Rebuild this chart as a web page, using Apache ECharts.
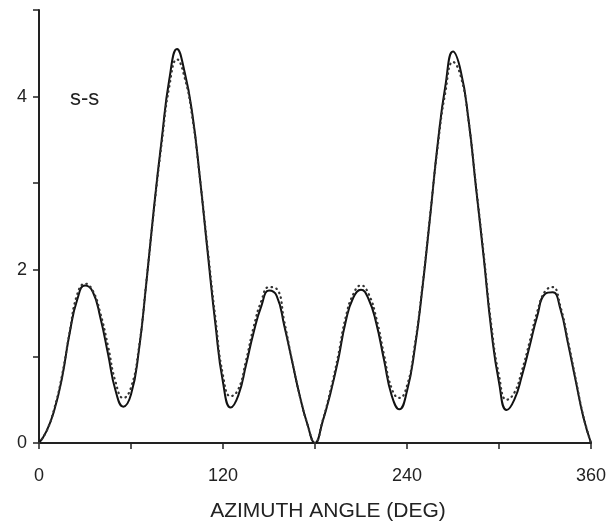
<!DOCTYPE html>
<html>
<head>
<meta charset="utf-8">
<script src="https://cdn.jsdelivr.net/npm/echarts@6/dist/echarts.min.js"></script>
<style>
html,body{margin:0;padding:0;background:#fff;}
#c{width:614px;height:529px;}
</style>
</head>
<body>
<div id="c"></div>
<script>
// Azimuth angles (deg)
var angles = [0,5,10,15,20,25,30,35,40,45,50,55,60,65,70,75,80,85,90,95,100,105,110,115,120,125,130,135,140,145,150,155,160,165,170,175,180,
  185,190,195,200,205,210,215,220,225,230,235,240,245,250,255,260,265,270,275,280,285,290,295,300,305,310,315,320,325,330,335,340,345,350,355,360];
// Solid curve (calculated)
var solidValues = [0,0.14,0.38,0.75,1.27,1.66,1.82,1.75,1.45,1.03,0.60,0.42,0.56,1.05,1.85,2.72,3.50,4.20,4.55,4.28,3.80,3.05,2.20,1.38,0.70,0.41,0.55,0.90,1.28,1.58,1.76,1.70,1.35,0.95,0.55,0.22,0,
  0.25,0.57,0.95,1.40,1.68,1.77,1.66,1.38,0.96,0.55,0.39,0.60,1.08,1.78,2.60,3.45,4.12,4.52,4.30,3.75,2.95,2.15,1.30,0.70,0.38,0.50,0.78,1.12,1.47,1.72,1.74,1.55,1.15,0.72,0.30,0];
// Dotted curve (measured)
var dottedValues = [0,0.14,0.40,0.78,1.28,1.72,1.84,1.76,1.50,1.12,0.70,0.52,0.64,1.08,1.86,2.70,3.46,4.12,4.43,4.22,3.76,3.05,2.24,1.45,0.78,0.54,0.62,0.95,1.34,1.64,1.80,1.78,1.40,0.95,0.55,0.22,0,
  0.26,0.60,1.00,1.45,1.72,1.82,1.72,1.44,1.02,0.63,0.52,0.66,1.12,1.80,2.62,3.42,4.05,4.40,4.24,3.74,2.97,2.18,1.36,0.78,0.50,0.58,0.84,1.17,1.52,1.75,1.80,1.58,1.18,0.74,0.31,0];
var xTickLabels = [0,120,240,360];
var yTickLabels = [0,2,4];
var panelLabel = 's-s';
var xAxisTitle = 'AZIMUTH ANGLE (DEG)';

function zip(xs, ys){ return xs.map(function(x,i){ return [x, ys[i]]; }); }

var FONT = "'Liberation Sans', Arial, sans-serif";
var chart = echarts.init(document.getElementById('c'), null, {renderer:'canvas'});
chart.setOption({
  animation:false,
  backgroundColor:'#fff',
  grid:{left:39, right:23, top:10, bottom:86, containLabel:false},
  xAxis:{
    type:'value', min:0, max:360, interval:60,
    name:xAxisTitle, nameLocation:'middle', nameGap:58,
    nameTextStyle:{fontFamily:FONT, fontSize:21, color:'#222', padding:[0,0,0,26]},
    axisLine:{show:true, lineStyle:{color:'#222', width:2}},
    axisTick:{show:true, inside:false, length:6, lineStyle:{color:'#222', width:1.5}},
    axisLabel:{margin:24, fontFamily:FONT, fontSize:18, color:'#222',
      formatter:function(v){ return xTickLabels.indexOf(v) >= 0 ? String(v) : ''; }},
    splitLine:{show:false}
  },
  yAxis:{
    type:'value', min:0, max:5, interval:1,
    axisLine:{show:true, lineStyle:{color:'#222', width:2}},
    axisTick:{show:true, inside:false, length:6, lineStyle:{color:'#222', width:1.5}},
    axisLabel:{margin:12, fontFamily:FONT, fontSize:18, color:'#222',
      formatter:function(v){ return yTickLabels.indexOf(v) >= 0 ? String(v) : ''; }},
    splitLine:{show:false}
  },
  graphic:[{
    type:'text', left:70, top:88,
    style:{text:panelLabel, font:"22px 'Liberation Sans', Arial, sans-serif", fill:'#222'}
  }],
  series:[
    {type:'line', data:zip(angles, solidValues), smooth:0.5, symbol:'none',
     lineStyle:{color:'#111', width:2}, z:2},
    {type:'line', data:zip(angles, dottedValues), smooth:0.5, symbol:'none',
     lineStyle:{color:'#333', width:2.2, type:[0.5,4.5], cap:'round'}, z:3}
  ]
});
</script>
</body>
</html>
